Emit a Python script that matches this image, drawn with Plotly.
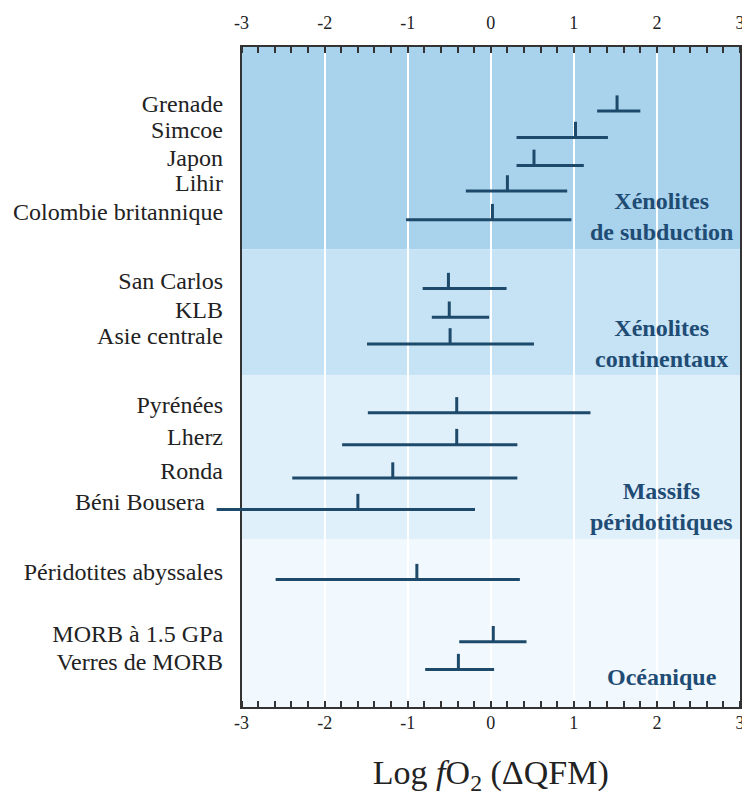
import plotly.graph_objects as go

# ---------------- data ----------------
sites = ["Grenade", "Simcoe", "Japon", "Lihir", "Colombie britannique",
         "San Carlos", "KLB", "Asie centrale",
         "Pyrénées", "Lherz", "Ronda", "Béni Bousera",
         "Péridotites abyssales",
         "MORB à 1.5 GPa", "Verres de MORB"]
fo2_mean = [1.52, 1.02, 0.52, 0.20, 0.02,
            -0.51, -0.50, -0.49,
            -0.41, -0.41, -1.18, -1.60,
            -0.89,
            0.03, -0.39]
fo2_min = [1.28, 0.31, 0.31, -0.30, -1.02,
           -0.82, -0.71, -1.49,
           -1.48, -1.79, -2.39, -3.30,
           -2.59,
           -0.38, -0.79]
fo2_max = [1.80, 1.41, 1.12, 0.92, 0.97,
           0.19, -0.02, 0.52,
           1.20, 0.32, 0.32, -0.19,
           0.35,
           0.43, 0.04]
# vertical slot of each row (row units, bottom = 0)
row_y = [21.19, 20.25, 19.26, 18.35, 17.33,
         14.88, 13.86, 12.91,
         10.46, 9.33, 8.14, 7.02,
         4.53,
         2.32, 1.33]

groups = ["Xénolites<br>de subduction", "Xénolites<br>continentaux",
          "Massifs<br>péridotitiques", "Océanique"]
group_top = [23.47, 16.28, 11.79, 5.96]
group_bottom = [16.28, 11.79, 5.96, 0.0]
group_label_y = [17.44, 12.91, 7.14, 1.05]

x_ticks = [-3, -2, -1, 0, 1, 2, 3]
x_tick_text = ["-3", "-2", "-1", "0", "1", "2", "3"]
x_range = [-3, 3]
x_title = "Log <i>f</i>O<sub>2</sub> (ΔQFM)"

# ---------------- style / layout ----------------
band_colors = ["#a9d3ec", "#c5e3f5", "#e0f0fb", "#f2f9fe"]
line_color = "#1d4a6b"
label_color = "#1f4c74"
frame_color = "#333333"
serif = "Liberation Serif"
tick_len = 0.56
label_pad = {"Béni Bousera": 3}   # keep this label clear of its long bar
site_labels = [s + "\u00a0" * label_pad.get(s, 0) for s in sites]

W, H = 742, 788
ML, MR, MT, MB = 200, 5, 30, 89
frame_left = 232                      # left edge of the framed plot
paper_w = W - ML - MR
dom0 = (frame_left - ML) / paper_w
px_per_unit = (paper_w * (1 - dom0)) / (x_range[1] - x_range[0])
wide_range = [x_range[1] - paper_w / px_per_unit, x_range[1]]

fig = go.Figure()

# range bars + mean ticks (on a wider hidden axis so bars may overflow the frame)
fig.add_trace(go.Scatter(
    x=fo2_mean, y=row_y, xaxis="x3", yaxis="y", mode="markers",
    marker=dict(size=1, opacity=0, color=line_color),
    error_x=dict(type="data", symmetric=False,
                 array=[hi - m for hi, m in zip(fo2_max, fo2_mean)],
                 arrayminus=[m - lo for lo, m in zip(fo2_min, fo2_mean)],
                 width=0, thickness=3, color=line_color),
    error_y=dict(type="data", symmetric=False,
                 array=[tick_len] * len(sites),
                 arrayminus=[0] * len(sites),
                 width=0, thickness=3, color=line_color),
    hoverinfo="skip", showlegend=False,
))
# invisible traces so the main and top axes exist
fig.add_trace(go.Scatter(x=x_range, y=[row_y[0]] * 2, xaxis="x", mode="markers",
                         marker=dict(opacity=0), hoverinfo="skip",
                         showlegend=False))
fig.add_trace(go.Scatter(x=x_range, y=[row_y[0]] * 2, xaxis="x2", mode="markers",
                         marker=dict(opacity=0), hoverinfo="skip",
                         showlegend=False))

for top, bot, col in zip(group_top, group_bottom, band_colors):
    fig.add_shape(type="rect", xref="x domain", yref="y",
                  x0=0, x1=1, y0=bot, y1=top,
                  fillcolor=col, line=dict(width=0), layer="below")

for g, gy in zip(groups, group_label_y):
    fig.add_annotation(text="<b>" + g + "</b>", xref="x domain", yref="y",
                       x=0.843, y=gy, xanchor="center", yanchor="middle",
                       align="center", showarrow=False,
                       font=dict(family=serif, size=24, color=label_color))

minor = dict(dtick=0.2, ticks="inside", ticklen=6, tickwidth=1.5,
             tickcolor=frame_color, showgrid=False)

fig.update_layout(
    width=W, height=H,
    margin=dict(l=ML, r=MR, t=MT, b=MB),
    paper_bgcolor="white", plot_bgcolor="rgba(0,0,0,0)",
    font=dict(family=serif, size=18, color="#222"),
    xaxis=dict(domain=[dom0, 1], range=x_range, tickvals=x_ticks,
               ticktext=x_tick_text,
               ticks="", showgrid=True, gridcolor="white", gridwidth=2,
               showline=True, linecolor=frame_color, linewidth=1.5, mirror=True,
               zeroline=False, minor=minor,
               tickfont=dict(family=serif, size=18, color="#222"),
               ticklabelstandoff=-1,
               title=dict(text=x_title, standoff=31,
                          font=dict(family=serif, size=34, color="#222"))),
    xaxis2=dict(range=x_range, matches="x", overlaying="x", side="top",
                anchor="y", tickvals=x_ticks, ticktext=x_tick_text,
                ticks="", showgrid=False, zeroline=False, minor=minor,
                showline=False,
                tickfont=dict(family=serif, size=18, color="#222"),
                ticklabelstandoff=13),
    xaxis3=dict(domain=[0, 1], range=wide_range, visible=False,
                anchor="y", showgrid=False, zeroline=False),
    yaxis=dict(range=[0, 23.47], tickvals=row_y, ticktext=site_labels,
               anchor="x",
               ticks="", showgrid=False, zeroline=False,
               showline=True, linecolor=frame_color, linewidth=1.5, mirror=True,
               tickfont=dict(family=serif, size=24, color="#222"),
               ticklabelshift=-8, ticklabelstandoff=12),
)

fig.write_html("out.html")
